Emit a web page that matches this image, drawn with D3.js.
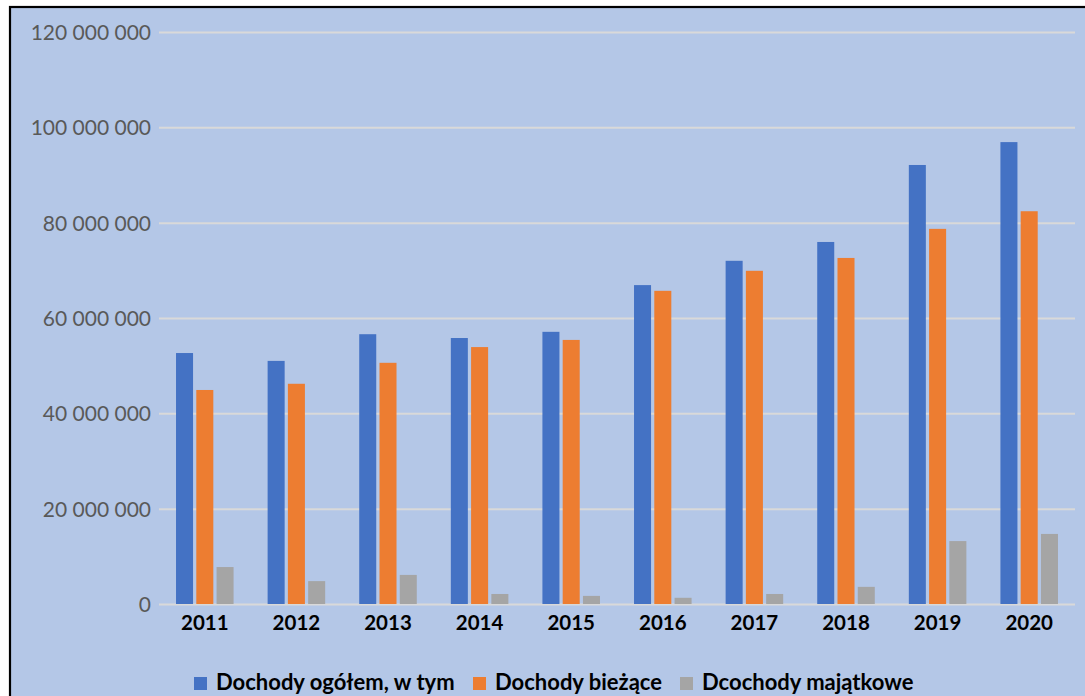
<!DOCTYPE html>
<html><head><meta charset="utf-8">
<script src="https://cdn.jsdelivr.net/npm/d3@7"></script>
<style>html,body{margin:0;padding:0;background:#fff;overflow:hidden}</style>
</head><body>
<svg id="c" width="1085" height="696"></svg>
<script>
const categories = ["2011","2012","2013","2014","2015","2016","2017","2018","2019","2020"];
const seriesNames = ["Dochody ogółem, w tym","Dochody bieżące","Dcochody majątkowe"];
const dochodyOgolem = [52650000,51000000,56600000,55800000,57100000,66900000,72000000,75950000,92100000,96900000];
const dochodyBiezace = [44900000,46200000,50600000,53900000,55400000,65700000,69900000,72600000,78700000,82400000];
const dochodyMajatkowe = [7750000,4800000,6100000,2100000,1700000,1300000,2100000,3600000,13200000,14700000];
const yTicks = [0,20000000,40000000,60000000,80000000,100000000,120000000];
const colors = ["#4472C4","#ED7D31","#A5A5A5"];

(function(){
const svg = d3.select("#c");
svg.append("rect").attr("x",10).attr("y",7).attr("width",1080).attr("height",700)
  .attr("fill","#B4C7E7").attr("stroke","#000").attr("stroke-width",2.2);

const pl=159, pr=1075, pt=32, pb=604;
const y = d3.scaleLinear().domain([0,120000000]).range([pb,pt]);
const x0 = d3.scaleBand().domain(categories).range([pl,pr]).padding(0);
const x1 = d3.scaleBand().domain(seriesNames).range([0,x0.bandwidth()]).paddingInner(0.16).paddingOuter(0.84);

const fmt = v => d3.format(",")(v).replace(/,/g," ");
const yAxis = d3.axisLeft(y).tickValues(yTicks).tickSize(-(pr-pl)).tickFormat(fmt).tickPadding(8);
const ga = svg.append("g").attr("transform",`translate(${pl},0)`).call(yAxis);
ga.select(".domain").remove();
ga.selectAll(".tick line").attr("stroke","#D9D9D9").attr("stroke-width",2);
ga.selectAll(".tick text").attr("fill","#595959").attr("font-family","Lato").attr("font-size",21).attr("dy","0.36em");

const data = categories.map((c,i)=>({cat:c, vals:[dochodyOgolem[i],dochodyBiezace[i],dochodyMajatkowe[i]]}));
const g = svg.append("g");
data.forEach(d=>{
  d.vals.forEach((v,j)=>{
    g.append("rect")
      .attr("x", x0(d.cat)+x1(seriesNames[j]))
      .attr("y", y(v))
      .attr("width", x1.bandwidth())
      .attr("height", y(0)-y(v))
      .attr("fill", colors[j]);
  });
});

const xAxis = d3.axisBottom(x0).tickSize(0).tickPadding(0);
const gx = svg.append("g").attr("transform",`translate(0,${pb})`).call(xAxis);
gx.select(".domain").remove();
gx.selectAll(".tick text").attr("fill","#000").attr("font-family","Lato").attr("font-weight","bold")
  .attr("font-size",20.5).attr("y",26).attr("dy",0);

const legX = [194, 473, 680];
const lg = svg.append("g");
seriesNames.forEach((n,i)=>{
  lg.append("rect").attr("x",legX[i]).attr("y",677).attr("width",13).attr("height",13).attr("fill",colors[i]);
  lg.append("text").attr("x",legX[i]+22).attr("y",690).text(n)
    .attr("font-family","Lato").attr("font-weight","bold").attr("font-size",22).attr("fill","#000");
});
})();
</script>
</body></html>
